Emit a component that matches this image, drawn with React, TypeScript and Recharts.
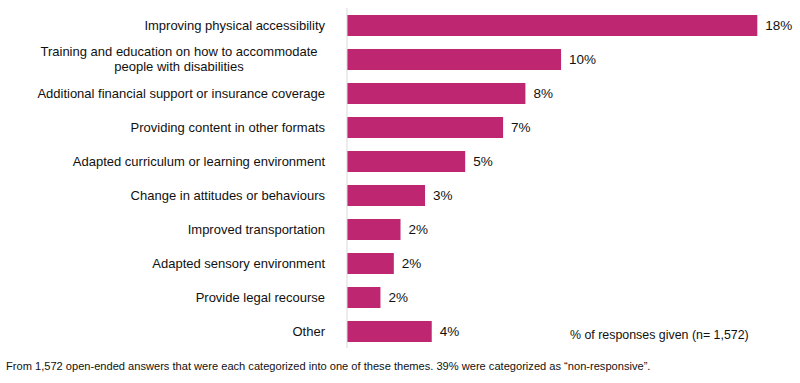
import React from 'react';
import { BarChart, Bar, XAxis, YAxis, LabelList } from 'recharts';

const categories = [
  'Improving physical accessibility',
  'Training and education on how to accommodate\npeople with disabilities',
  'Additional financial support or insurance coverage',
  'Providing content in other formats',
  'Adapted curriculum or learning environment',
  'Change in attitudes or behaviours',
  'Improved transportation',
  'Adapted sensory environment',
  'Provide legal recourse',
  'Other',
];

// shares of responses (%)
const shares = [18.4, 9.6, 8.0, 7.0, 5.3, 3.5, 2.4, 2.1, 1.5, 3.8];

// labels as printed on the chart
const shareLabels = ['18%', '10%', '8%', '7%', '5%', '3%', '2%', '2%', '2%', '4%'];

const BAR_COLOR = '#BE2672';
const FONT = "'Liberation Sans', Arial, sans-serif";

const chartData = categories.map((name, i) => ({
  name,
  value: shares[i],
  label: shareLabels[i],
}));

const CategoryTick = (props: any) => {
  const { x, y, payload } = props;
  const lines = String(payload.value).split('\n');
  const lineHeight = 15.5;
  const multi = lines.length > 1;
  const startY = y - ((lines.length - 1) * lineHeight) / 2;
  // wrapped labels are centred under their first line, like the source
  const tx = multi ? x - 14 - 146 : x - 14;
  return (
    <text
      x={tx}
      y={startY}
      textAnchor={multi ? 'middle' : 'end'}
      fill="#111"
      fontSize={13}
      fontFamily={FONT}
    >
      {lines.map((line, i) => (
        <tspan key={i} x={tx} dy={i === 0 ? '0.36em' : lineHeight}>
          {line}
        </tspan>
      ))}
    </text>
  );
};

export default function App() {
  return (
    <div
      style={{
        position: 'absolute',
        left: 0,
        top: 0,
        width: 800,
        height: 383,
        background: '#fff',
        fontFamily: FONT,
      }}
    >
      <BarChart
        width={800}
        height={383}
        data={chartData}
        layout="vertical"
        margin={{ top: 8, right: 7, left: 0, bottom: 35 }}
        barSize={21}
      >
        <XAxis type="number" domain={[0, 20]} hide />
        <YAxis
          type="category"
          dataKey="name"
          width={347}
          axisLine={{ stroke: '#d9d9d9' }}
          tickLine={false}
          tick={<CategoryTick />}
          interval={0}
        />
        <Bar dataKey="value" fill={BAR_COLOR} isAnimationActive={false}>
          <LabelList
            dataKey="label"
            position="right"
            offset={8}
            fill="#111"
            fontSize={13.5}
            fontFamily={FONT}
          />
        </Bar>
      </BarChart>
      <div
        style={{
          position: 'absolute',
          left: 570,
          top: 328,
          fontSize: 12.4,
          color: '#111',
          whiteSpace: 'nowrap',
        }}
      >
        % of responses given (n= 1,572)
      </div>
      <div
        style={{
          position: 'absolute',
          left: 6,
          top: 360,
          fontSize: 11.1,
          color: '#111',
          whiteSpace: 'nowrap',
        }}
      >
        From 1,572 open-ended answers that were each categorized into one of these themes. 39% were categorized as “non-responsive”.
      </div>
    </div>
  );
}
